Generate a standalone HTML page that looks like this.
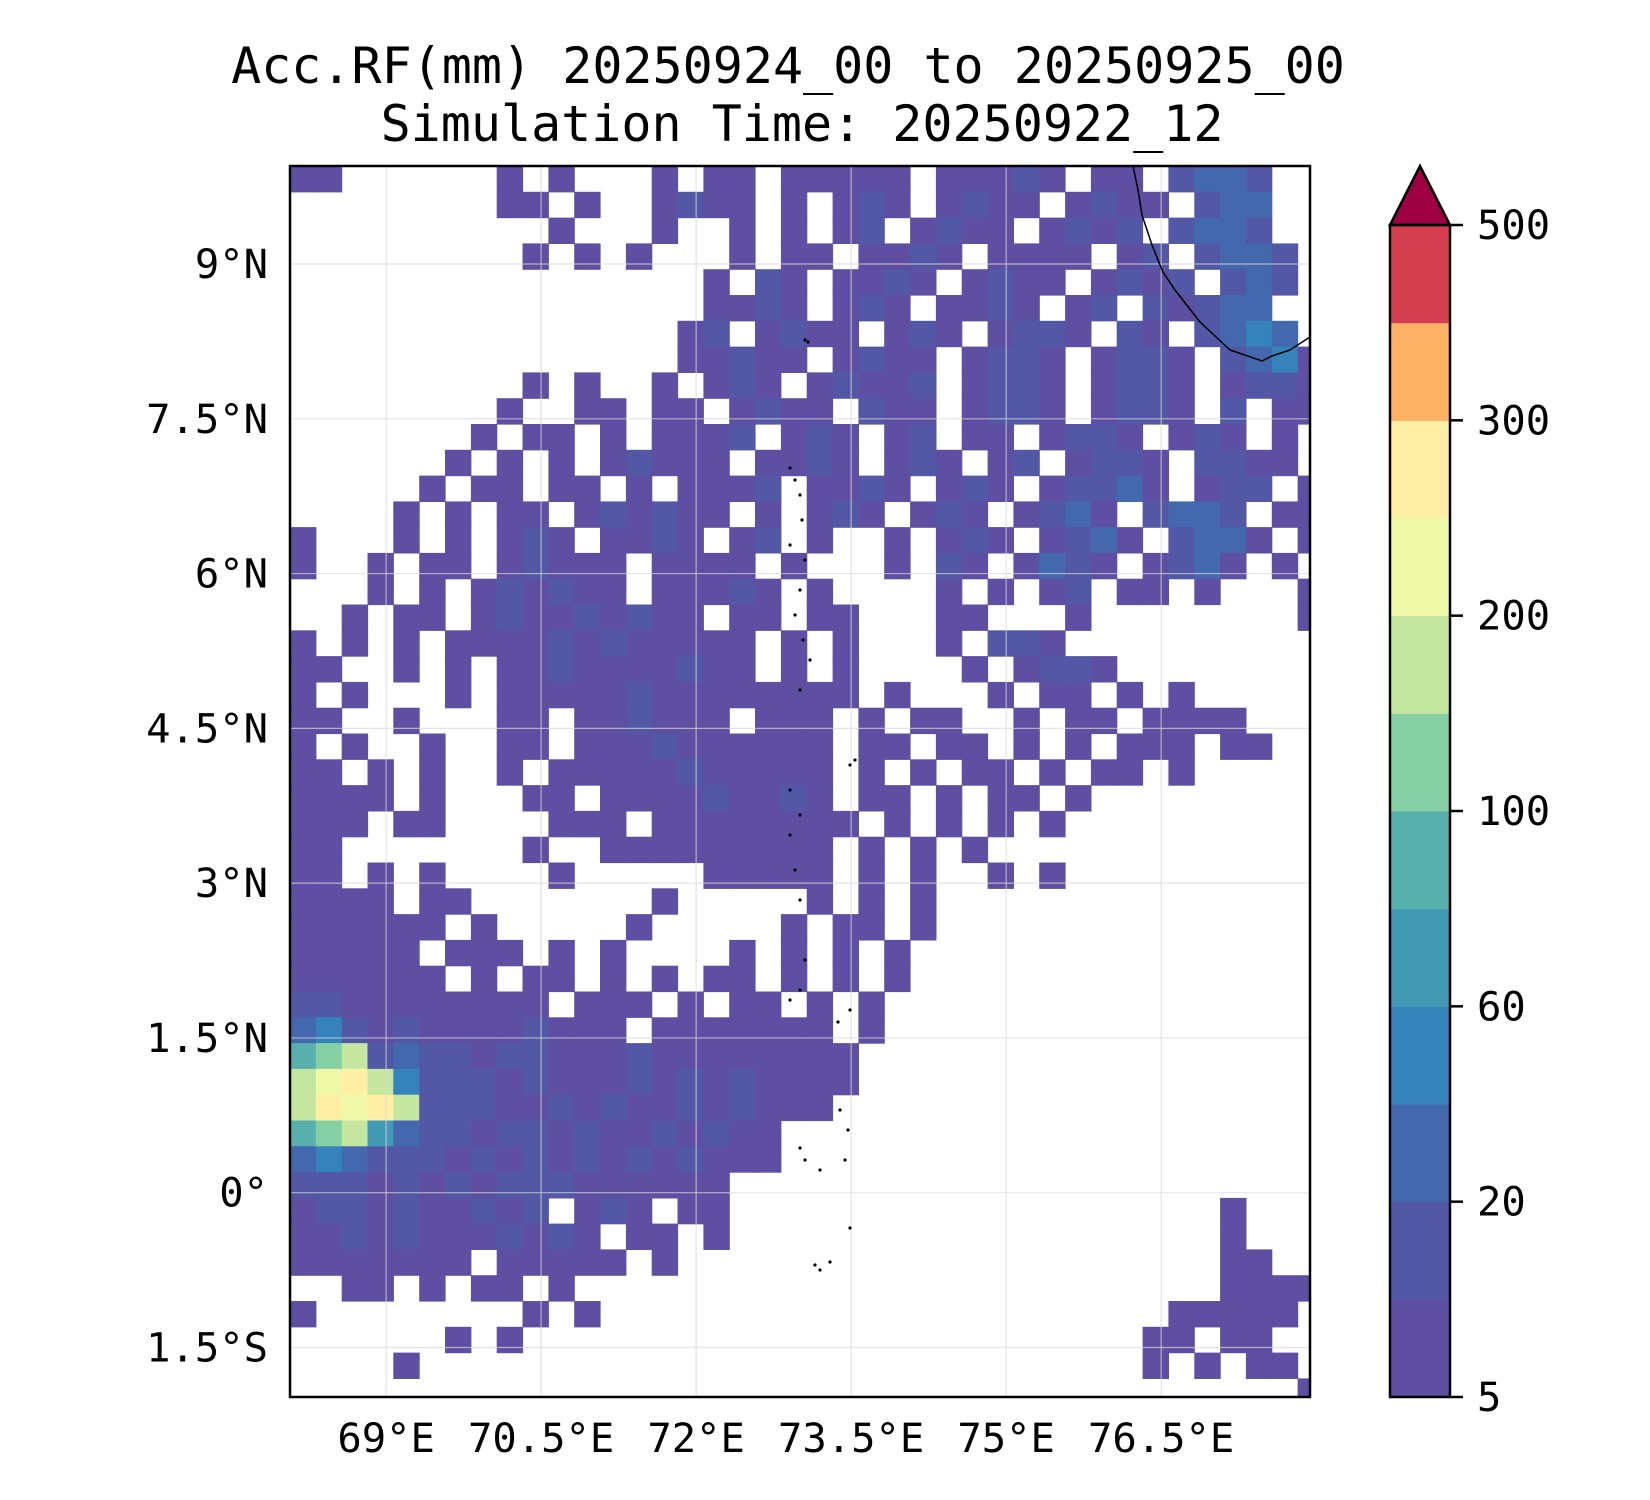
<!DOCTYPE html>
<html><head><meta charset="utf-8"><style>
html,body{margin:0;padding:0;background:#fff;}
svg{display:block;font-family:"DejaVu Sans Mono","Liberation Mono",monospace;}
</style></head><body>
<svg id="fig" width="1650" height="1500" viewBox="0 0 1650 1500" xmlns="http://www.w3.org/2000/svg">
<text x="788" y="83" font-size="50" text-anchor="middle">Acc.RF(mm) 20250924_00 to 20250925_00</text>
<text x="802" y="141" font-size="50" text-anchor="middle">Simulation Time: 20250922_12</text>
<g id="field"></g>
<g id="grid"></g>
<g id="coast"></g>
<rect x="290" y="166" width="1020" height="1231" fill="none" stroke="#000" stroke-width="2.5"/>
<g id="axes"></g>
<g id="cbar"></g>
</svg>
<script>
// ---- data ----
const lonTicks = [69, 70.5, 72, 73.5, 75, 76.5];
const lonTickLabels = ["69°E","70.5°E","72°E","73.5°E","75°E","76.5°E"];
const latTicks = [9, 7.5, 6, 4.5, 3, 1.5, 0, -1.5];
const latTickLabels = ["9°N","7.5°N","6°N","4.5°N","3°N","1.5°N","0°","1.5°S"];
const levels = [5,10,20,40,60,80,100,150,200,250,300,400,500];
const levelColors = ["#5e4fa2","#5358a6","#4468ae","#3683bb","#4299b4","#57b0ab","#85cfa4","#c4e69f","#eff8a7","#feefa5","#fdb164","#d53e4f"];
const extendColor = "#9e0142";
const cbTickLabels = ["5","20","60","100","200","300","500"];
const cbTickLevels = [5,20,60,100,200,300,500];
// rain code per 0.25° cell ('.'=none, 1..b = level bin), rows from north (9.95N) south, cols from 68.05E east
const codeValues = {"1":7,"2":15,"3":30,"4":50,"5":70,"6":90,"7":120,"8":170,"9":220,"a":270,"b":350};
const rainRows = [
"11......1.1...1.11.11111.11121.11.2332..",
"........11.1..1211.1.121.1211.1211.233..",
"..........1...1..1.1.12.1211.1212.2332..",
".........1.1.1...1.11.1121.1111.12.2332.",
"................1.21.1121.1211.1212.232.",
"................1121.121.1121.12.21233..",
"...............12.1211.121.1221.21.2343.",
"...............11211.1211.1221.1221.2341",
".........1.1..1.121.12112.1221.1221.1221",
"........1..11.11.1211.211.1221.1221.2.11",
".......1.11.1.1112.121.12.11.1221.121.1.",
"......1.1.1.12111.1121.121.12.1221.2211.",
".....1.11.11.1.1112.1121.121.12231.122.1",
"....1.1.11.121211.1.121.121.1231.2332.11",
"1...1.1.121.1121.12.1..1.121.1231.2331.1",
"1..1.11.12111.1111.1...1.21.1321.1231.1.",
"...1.1.121211.11121.1....1.1.12.11.1...1",
"..1.11.121121211.11.11...11...1........1",
"1.1.1.111121211111.1.1...1.221.........",
"11..1.1.1121111211.1.1....1.1221.......",
"1.1...1.11111211111111.1...1.11.1.1....",
"11..1...11.112111.111.1.11..1.11.1111..",
"1.1..1..11.1112111111.11.11.1.1.111.11.",
"11.1.1..1.11111211111.1.1.11.1.11.1.....",
"1111.1...11.111121121.11.1.11.1.........",
"111.11....111.11111111.1.1.1.1.........",
"11.......1..111111111.1.1.1............",
"11.1.1....1.....11111.1.1..1.1.........",
"1111.11.......1.....1.1.1..............",
"111111.1.....1.....1.11.1..............",
"11111.111.1.1....1.1.1.1...............",
"111111.1.11.1.1.11.1.1.1...............",
"2211111111.111.1.11.1.1................",
"3421211112111.1111111.1................",
"6782322122111211111111.................",
"89a8422212111212121111.................",
"8a9a82221121211212111..................",
"6785322122121121211....................",
"3432221212121212111....................",
"22212121222111111......................",
"1221211212.121.11...................1..",
"112121112121.11.1...................1..",
"1111111.11111.1.....................11.",
"..11.1.11.1.........................1111",
"1........1.1......................11111",
"......1.1........................11.11",
"....1............................1.1.11",
".......................................1"
];
// ---- axes ----
const X0=290,X1=1310,Y0=166,Y1=1397, LON0=68.07,LON1=77.94,LAT0=-1.98,LAT1=9.95;
const xOf = lon => X0+(lon-LON0)/(LON1-LON0)*(X1-X0);
const yOf = lat => Y0+(LAT1-lat)/(LAT1-LAT0)*(Y1-Y0);
const NS="http://www.w3.org/2000/svg";
function mk(tag,attrs,parent){const e=document.createElementNS(NS,tag);for(const k in attrs)e.setAttribute(k,attrs[k]);parent.appendChild(e);return e;}
function colorFor(v){if(v<levels[0])return null;for(let i=levels.length-2;i>=0;i--){if(v>=levels[i])return i>=levelColors.length?extendColor:levelColors[i];}return null;}
const field=document.getElementById('field');
const cell=0.25;
rainRows.forEach((row,i)=>{
  for(let j=0;j<row.length;j++){
    const c=row[j]; if(c==='.')continue;
    const v=codeValues[c]; const col=colorFor(v); if(!col)continue;
    const lonA=LON0+j*cell, latA=LAT1-i*cell;
    const x=xOf(lonA), y=yOf(latA);
    const w=Math.min(xOf(lonA+cell),X1)-x, h=Math.min(yOf(latA-cell),Y1)-y;
    if(w<=0||h<=0)continue;
    const r=mk('rect',{x:x.toFixed(1),y:y.toFixed(1),width:(w+0.6).toFixed(1),height:(h+0.6).toFixed(1),fill:col},field);
    
    
  }
});
const grid=document.getElementById('grid'), axes=document.getElementById('axes');
lonTicks.forEach((lon,k)=>{
  const x=xOf(lon);
  const l=mk('line',{x1:x,x2:x,y1:Y0,y2:Y1,stroke:'#d8d8d8','stroke-width':1.2,'stroke-opacity':0.7},grid);
  
  
  const t=mk('text',{x:x,y:1452,'font-size':40.5,'text-anchor':'middle'},axes);
  t.textContent=lonTickLabels[k];
  
  
});
latTicks.forEach((lat,k)=>{
  const y=yOf(lat);
  const l=mk('line',{x1:X0,x2:X1,y1:y,y2:y,stroke:'#d8d8d8','stroke-width':1.2,'stroke-opacity':0.7},grid);
  
  
  const t=mk('text',{x:268,y:y+14,'font-size':40.5,'text-anchor':'end'},axes);
  t.textContent=latTickLabels[k];
  
  
});
// coastline (India) and island dots
const coast=document.getElementById('coast');
const cp=mk('path',{d:"M1133 166 L1138 190 L1142 215 L1152 245 L1160 265 L1163 272 L1175 290 L1200 322 L1230 350 L1262 361 L1272 356 L1290 350 L1310 337",fill:'none',stroke:'#000','stroke-width':1.5},coast);


const dots=[[805,340],[808,342],[790,468],[795,480],[800,495],[802,520],[790,545],[805,560],[800,590],[795,615],[803,640],[810,660],[800,690],[855,760],[850,765],[790,790],[800,815],[790,835],[795,870],[800,900],[805,960],[800,990],[790,1000],[850,1010],[838,1022],[840,1110],[800,1148],[805,1160],[820,1170],[845,1160],[848,1130],[850,1228],[815,1265],[820,1270],[830,1262]];
dots.forEach(d=>{const c=mk('circle',{cx:d[0],cy:d[1],r:1.6,fill:'#000'},coast);

});
// colorbar
const cb=document.getElementById('cbar');
const CX0=1390,CX1=1450,CY0=225,CY1=1397;
const nb=levelColors.length, bh=(CY1-CY0)/nb;
levelColors.forEach((c,i)=>{
  const r=mk('rect',{x:CX0,y:(CY1-(i+1)*bh).toFixed(1),width:CX1-CX0,height:(bh+0.5).toFixed(1),fill:c},cb);
  
  
});
const tri=mk('polygon',{points:`${CX0},${CY0} ${(CX0+CX1)/2},166 ${CX1},${CY0}`,fill:extendColor,stroke:'#000','stroke-width':2.5},cb);


const fr=mk('rect',{x:CX0,y:CY0,width:CX1-CX0,height:CY1-CY0,fill:'none',stroke:'#000','stroke-width':2.5},cb);


cbTickLevels.forEach((lv,k)=>{
  const idx=levels.indexOf(lv); const y=CY1-idx*bh;
  const tl=mk('line',{x1:CX1,x2:CX1+13,y1:y,y2:y,stroke:'#000','stroke-width':2.5},cb);
  
  
  const t=mk('text',{x:CX1+27,y:y+14,'font-size':40.5},cb);
  t.textContent=cbTickLabels[k];
  
  
});
</script>
</body></html>
